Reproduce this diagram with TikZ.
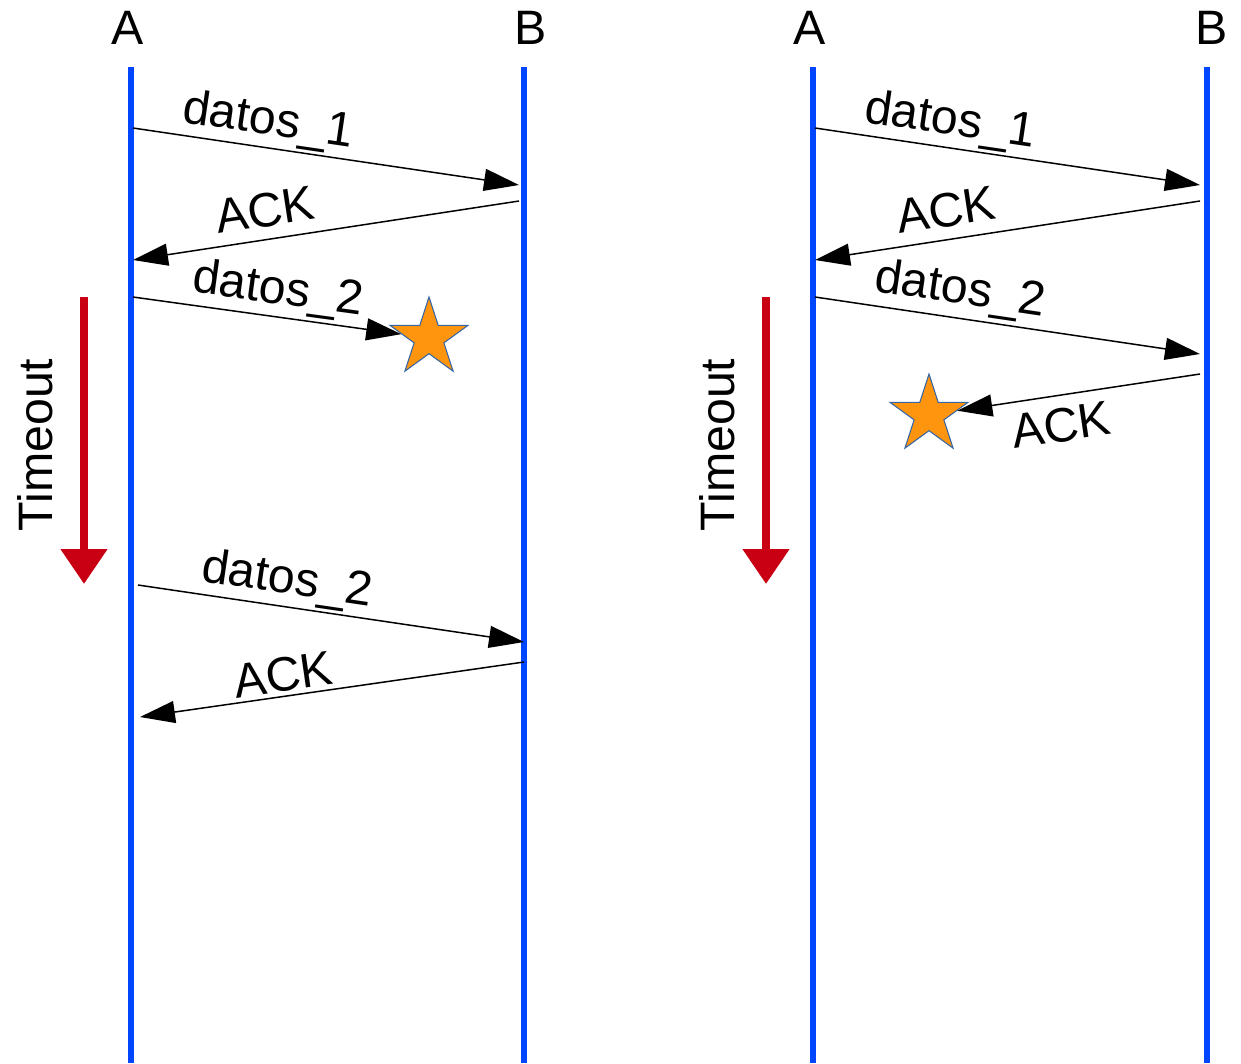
\documentclass[tikz,border=0pt]{standalone}
\usepackage{fontspec}
\setmainfont{Liberation Sans}
\usepackage{tikz}
\usetikzlibrary{
    arrows.meta,
    positioning,
    shapes.geometric
}
\definecolor{lifeC}{RGB}{0,69,255}
\definecolor{toutC}{RGB}{201,0,20}
\definecolor{starC}{RGB}{255,149,14}
\definecolor{starE}{RGB}{52,101,164}
\tikzset{
  life/.style  = {color=lifeC, line width=0.13cm},
  msg/.style   = {-{Triangle[length=0.7cm, width=0.44cm]}, line width=0.85pt},
  lbl/.style   = {font=\fontsize{27.5}{32}\selectfont, inner sep=0pt},
  lost/.style  = {star, star points=5, star point ratio=2.618,
                  minimum size=1.64cm, inner sep=0pt,
                  fill=starC, draw=starE, line width=0.6pt},
  tout/.style  = {-{Triangle[length=0.7cm, width=0.9cm]}, color=toutC,
                  line width=0.16cm}
}

\begin{document}
\begin{tikzpicture}[x=0.02cm, y=-0.02cm]
  \useasboundingbox (0,0) rectangle (1241,1063);

  %% ── Lifelines ─────────────────────────────────────────────────
  \coordinate (lA1) at ( 131,67);  \coordinate (lA1e) at ( 131,1063);
  \coordinate (lB1) at ( 524,67);  \coordinate (lB1e) at ( 524,1063);
  \coordinate (lA2) at ( 813,67);  \coordinate (lA2e) at ( 813,1063);
  \coordinate (lB2) at (1207,67);  \coordinate (lB2e) at (1207,1063);
  \draw[life] (lA1) -- (lA1e);
  \draw[life] (lB1) -- (lB1e);
  \draw[life] (lA2) -- (lA2e);
  \draw[life] (lB2) -- (lB2e);

  \node[lbl] (hA1) at ( 128,28) {A};
  \node[lbl] (hB1) at ( 531,28) {B};
  \node[lbl] (hA2) at ( 810,28) {A};
  \node[lbl] (hB2) at (1212,28) {B};

  %% ── Left: lost data ───────────────────────────────────────────
  \coordinate (m1s) at (133,128);  \coordinate (m1e) at (519,185);
  \coordinate (m2s) at (519,201);  \coordinate (m2e) at (133,260);
  \coordinate (m3s) at (133,297);
  \coordinate (m4s) at (138,585);  \coordinate (m4e) at (524,642);
  \coordinate (m5s) at (524,662);  \coordinate (m5e) at (140,717);
  \node[lost] (x1) at (429,338) {};

  \draw[msg] (m1s) -- (m1e);
  \draw[msg] (m2s) -- (m2e);
  \draw[msg] (m3s) -- (x1);
  \draw[msg] (m4s) -- (m4e);
  \draw[msg] (m5s) -- (m5e);

  \node[lbl, rotate=-8.4] (t1) at (268,122) {datos\_1};
  \node[lbl, rotate= 8.7] (t2) at (265,210) {ACK};
  \node[lbl, rotate=-7.8] (t3) at (278,291) {datos\_2};
  \node[lbl, rotate=-8.4] (t4) at (287,581) {datos\_2};
  \node[lbl, rotate= 8.2] (t5) at (283,675) {ACK};

  % timeout
  \coordinate (o1s) at (84,297);  \coordinate (o1e) at (84,584);
  \draw[tout] (o1s) -- (o1e);
  \node[lbl, rotate=90] (to1) at (35,445) {Timeout};

  %% ── Right: lost ACK ───────────────────────────────────────────
  \coordinate (n1s) at (815,128);   \coordinate (n1e) at (1200,185);
  \coordinate (n2s) at (1200,201);  \coordinate (n2e) at (815,260);
  \coordinate (n3s) at (815,297);   \coordinate (n3e) at (1200,354);
  \coordinate (n4s) at (1200,374);
  \node[lost] (x2) at (929,415) {};

  \draw[msg] (n1s) -- (n1e);
  \draw[msg] (n2s) -- (n2e);
  \draw[msg] (n3s) -- (n3e);
  \draw[msg] (n4s) -- (x2);

  \node[lbl, rotate=-8.4] (u1) at ( 950,122) {datos\_1};
  \node[lbl, rotate= 8.7] (u2) at ( 946,210) {ACK};
  \node[lbl, rotate=-8.4] (u3) at ( 960,291) {datos\_2};
  \node[lbl, rotate= 8.4] (u4) at (1061,425) {ACK};

  % timeout
  \coordinate (o2s) at (766,297);  \coordinate (o2e) at (766,584);
  \draw[tout] (o2s) -- (o2e);
  \node[lbl, rotate=90] (to2) at (717,445) {Timeout};

\end{tikzpicture}
\end{document}
